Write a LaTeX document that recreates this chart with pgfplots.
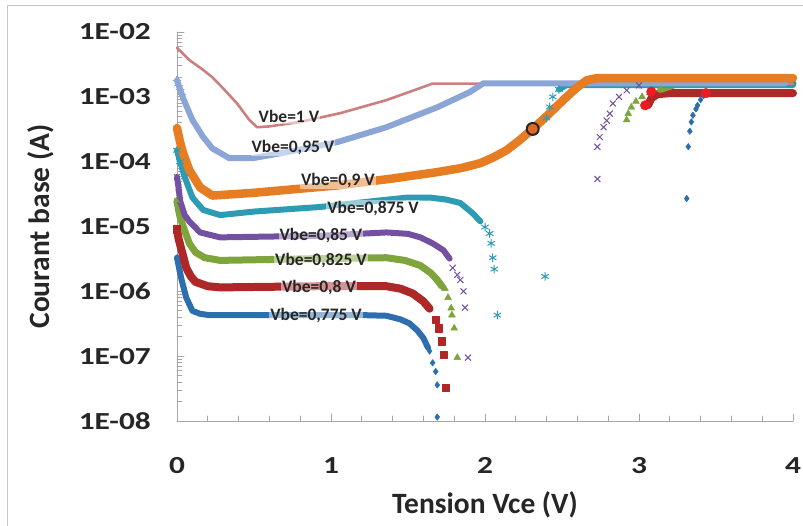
\documentclass[border=0pt]{standalone}
\usepackage{fontspec}
\setmainfont{Carlito}
\newfontfamily\tickfont{Carlito}[FakeStretch=1.28]
\usepackage{pgfplots}
\pgfplotsset{compat=1.18}
\definecolor{cpink}{RGB}{204,127,127}
\definecolor{clblue}{RGB}{140,165,215}
\definecolor{corange}{RGB}{230,125,35}
\definecolor{cteal}{RGB}{45,155,180}
\definecolor{cpurple}{RGB}{115,80,160}
\definecolor{cgreen}{RGB}{125,165,60}
\definecolor{cred}{RGB}{175,40,40}
\definecolor{cblue}{RGB}{45,110,175}
\definecolor{cdot}{RGB}{237,28,36}
\definecolor{ctxt}{RGB}{38,38,38}
\definecolor{cring}{RGB}{225,105,40}
\begin{document}
\begin{tikzpicture}
\useasboundingbox (-177pt,-105pt) rectangle (626pt,421pt);
\begin{axis}[
  at={(0pt,0pt)}, anchor=south west,
  scale only axis, width=616pt, height=389pt,
  xmin=0, xmax=4, ymin=1e-8, ymax=1e-2, ymode=log,
  clip=false,
  axis x line=bottom, axis y line=left,
  axis line style={draw=gray!70, line width=0.9pt, -},
  tick align=inside,
  major tick length=7pt, minor tick length=5pt,
  every tick/.style={draw=gray!70, line width=0.9pt},
  xtick={0,1,2,3,4}, minor x tick num=4,
  xticklabels={0,1,2,3,4},
  ytick={1e-8,1e-7,1e-6,1e-5,1e-4,1e-3,1e-2},
  minor ytick={2e-8,3e-8,4e-8,5e-8,6e-8,7e-8,8e-8,9e-8,
               2e-7,3e-7,4e-7,5e-7,6e-7,7e-7,8e-7,9e-7,
               2e-6,3e-6,4e-6,5e-6,6e-6,7e-6,8e-6,9e-6,
               2e-5,3e-5,4e-5,5e-5,6e-5,7e-5,8e-5,9e-5,
               2e-4,3e-4,4e-4,5e-4,6e-4,7e-4,8e-4,9e-4,
               2e-3,3e-3,4e-3,5e-3,6e-3,7e-3,8e-3,9e-3},
  yticklabels={1E-08,1E-07,1E-06,1E-05,1E-04,1E-03,1E-02},
  tick label style={font=\tickfont\bfseries\fontsize{24.5}{26}\selectfont, text=ctxt, inner sep=0pt},
  yticklabel style={anchor=east, xshift=-26pt},
  xticklabel style={anchor=north, yshift=-36pt},
  xlabel={Tension Vce (V)}, ylabel={Courant base (A)},
  label style={font=\bfseries\fontsize{29.5}{31}\selectfont, text=ctxt, inner sep=0pt},
  xlabel style={at={(axis description cs:0.5,-0.2365)}, anchor=base},
  ylabel style={at={(axis description cs:-0.2062,0.5)}, anchor=base, rotate=0},
  line join=round, line cap=round,
]
% ---- Vbe = 0.775 V (blue diamonds)
\addplot[cblue, line width=6pt, mark=none] coordinates {
(0,3.3e-6) (0.015,2.2e-6) (0.03,1.5e-6) (0.06,8.0e-7) (0.1,5.0e-7) (0.15,4.5e-7) (0.21,4.3e-7) (0.5,4.3e-7) (0.93,4.3e-7) (1.2,4.3e-7) (1.36,4.2e-7) (1.45,3.7e-7) (1.51,3.2e-7) (1.56,2.5e-7) (1.60,1.9e-7) (1.63,1.35e-7)};
\addplot[cblue, only marks, mark=diamond*, mark size=3.3pt] coordinates {
(0,3.3e-6) (0.015,2.2e-6) (0.03,1.5e-6) (1.64,1.2e-7) (1.66,7.9e-8) (1.68,5.8e-8) (1.69,3.6e-8) (1.69,1.15e-8)
(3.31,2.7e-5) (3.32,1.7e-4) (3.33,2.95e-4) (3.34,4.1e-4) (3.35,5.2e-4) (3.37,6.5e-4) (3.38,7.4e-4) (3.40,9.0e-4) (3.42,1.05e-3)};
\addplot[cblue, line width=6pt, mark=none] coordinates {(3.44,1.14e-3) (4,1.14e-3)};
% ---- Vbe = 0.8 V (red squares)
\addplot[cred, line width=8pt, mark=none] coordinates {
(0,9.1e-6) (0.01,6.5e-6) (0.03,4.3e-6) (0.06,2.3e-6) (0.09,1.7e-6) (0.12,1.4e-6) (0.2,1.2e-6) (0.28,1.15e-6) (0.93,1.2e-6) (1.36,1.2e-6) (1.45,1.1e-6) (1.53,9.3e-7) (1.60,7.0e-7) (1.64,5.4e-7)};
\addplot[cred, only marks, mark=square*, mark size=3.6pt] coordinates {
(0,9.1e-6) (1.68,3.7e-7) (1.70,2.7e-7) (1.72,1.7e-7) (1.73,1.05e-7) (1.745,3.3e-8)};
\addplot[cred, line width=8pt, mark=none] coordinates {(3.06,7.5e-4) (3.08,9.5e-4) (3.12,1.1e-3) (3.2,1.14e-3) (4,1.14e-3)};
% ---- Vbe = 0.825 V (green triangles)
\addplot[cgreen, line width=7pt, mark=none] coordinates {
(0,2.5e-5) (0.01,1.8e-5) (0.02,1.4e-5) (0.04,1.0e-5) (0.08,5.5e-6) (0.12,4.0e-6) (0.18,3.3e-6) (0.28,3.0e-6) (0.93,3.2e-6) (1.36,3.3e-6) (1.48,3.0e-6) (1.58,2.5e-6) (1.65,1.9e-6) (1.69,1.5e-6) (1.72,1.2e-6)};
\addplot[cgreen, only marks, mark=triangle*, mark size=4pt] coordinates {
(0,2.5e-5) (1.74,1.1e-6) (1.76,8.0e-7) (1.78,5.5e-7) (1.785,4.3e-7) (1.80,2.7e-7) (1.82,9.5e-8)
(2.92,4.4e-4) (2.93,5.5e-4) (2.95,6.9e-4) (2.98,8.5e-4) (3.02,1.0e-3) (3.07,1.15e-3) (3.14,1.3e-3)};
\addplot[cgreen, line width=7pt, mark=none] coordinates {(3.14,1.3e-3) (3.25,1.6e-3) (4,1.6e-3)};
% ---- Vbe = 0.85 V (purple crosses)
\addplot[cpurple, line width=6pt, mark=none] coordinates {
(0,5.8e-5) (0.01,4.0e-5) (0.02,2.5e-5) (0.05,1.5e-5) (0.08,1.2e-5) (0.15,8.1e-6) (0.28,6.8e-6) (0.93,7.2e-6) (1.36,8.1e-6) (1.5,7.7e-6) (1.58,6.8e-6) (1.66,5.5e-6) (1.73,4.3e-6) (1.77,3.2e-6)};
\addplot[cpurple, only marks, mark=x, mark size=4pt, line width=1pt] coordinates {
(0,5.8e-5) (0.01,4.0e-5) (0.02,2.5e-5) (1.79,2.3e-6) (1.82,1.8e-6) (1.84,1.5e-6) (1.86,1.0e-6) (1.87,5.6e-7) (1.89,9.5e-8)
(2.73,5.4e-5) (2.73,1.7e-4) (2.745,2.4e-4) (2.77,3.4e-4) (2.79,4.3e-4) (2.81,5.5e-4) (2.83,7.9e-4) (2.87,1.0e-3) (2.92,1.26e-3) (3.0,1.5e-3)};
\addplot[cpurple, line width=6pt, mark=none] coordinates {(3.0,1.5e-3) (3.1,1.6e-3) (4,1.6e-3)};
% ---- Vbe = 0.875 V (teal asterisks)
\addplot[cteal, line width=6pt, mark=none] coordinates {
(0,1.5e-4) (0.02,1.0e-4) (0.05,5.8e-5) (0.1,2.8e-5) (0.17,1.8e-5) (0.28,1.5e-5) (0.5,1.7e-5) (0.93,2.0e-5) (1.3,2.5e-5) (1.5,2.8e-5) (1.64,2.8e-5) (1.75,2.6e-5) (1.84,2.3e-5) (1.92,1.6e-5) (1.97,1.2e-5)};
\addplot[cteal, only marks, mark=asterisk, mark size=4pt, line width=1pt] coordinates {
(0,1.5e-4) (0.02,1.0e-4) (0.05,5.8e-5) (2.0,9.8e-6) (2.03,7.8e-6) (2.04,5.5e-6) (2.05,3.3e-6) (2.06,2.2e-6) (2.08,4.3e-7) (2.39,1.7e-6)
(2.40,4.7e-4) (2.42,7.0e-4) (2.44,1.0e-3) (2.48,1.3e-3)};
\addplot[cteal, line width=6pt, mark=none] coordinates {(2.48,1.3e-3) (2.53,1.52e-3) (4,1.52e-3)};
% ---- Vbe = 1 V (pink line)
\addplot[cpink, line width=2.6pt, mark=none] coordinates {
(0,5.7e-3) (0.08,3.7e-3) (0.17,2.6e-3) (0.23,2.0e-3) (0.3,1.35e-3) (0.39,7.9e-4) (0.47,4.4e-4) (0.52,3.4e-4) (0.6,3.5e-4) (0.8,4.1e-4) (1.06,5.6e-4) (1.36,8.9e-4) (1.66,1.6e-3) (4,1.6e-3)};
% ---- Vbe = 0.95 V (light blue plus)
\addplot[clblue, line width=6pt, mark=none] coordinates {
(0,1.8e-3) (0.02,1.3e-3) (0.04,9.5e-4) (0.1,4.4e-4) (0.17,2.4e-4) (0.23,1.6e-4) (0.34,1.13e-4) (0.49,1.13e-4) (0.71,1.4e-4) (1.04,2.0e-4) (1.36,3.4e-4) (1.69,6.9e-4) (1.90,1.18e-3) (1.99,1.62e-3) (3.95,1.62e-3)};
\addplot[clblue, only marks, mark=+, mark size=4pt, line width=1pt] coordinates {
(0,1.8e-3) (0.01,1.5e-3) (0.02,1.3e-3) (0.03,1.1e-3)};
% ---- Vbe = 0.9 V (orange)
\addplot[corange, line width=8.5pt, mark=none] coordinates {
(0,3.3e-4) (0.02,2.0e-4) (0.04,1.35e-4) (0.08,7.4e-5) (0.15,4.0e-5) (0.23,3.0e-5) (0.49,3.3e-5) (1.04,4.3e-5) (1.4,5.5e-5) (1.69,6.9e-5) (1.85,8.0e-5) (1.97,9.5e-5) (2.05,1.15e-4) (2.14,1.5e-4) (2.22,2.1e-4) (2.31,3.2e-4) (2.41,5.3e-4) (2.51,9.0e-4) (2.59,1.35e-3) (2.66,1.8e-3) (2.73,1.95e-3) (4,1.95e-3)};
% ---- highlighted points
\addplot[only marks, mark=*, mark size=4.8pt, mark options={fill=cdot, draw=cdot}] coordinates {(3.08,1.2e-3) (3.04,7.4e-4) (3.435,1.14e-3)};
\addplot[cring, only marks, mark=*, mark size=6pt, mark options={fill=cring, draw=black!85, line width=2pt}] coordinates {(2.31,3.2e-4)};
% ---- labels
\begin{scope}[every node/.style={font=\bfseries\fontsize{17.5}{18}\selectfont, text=ctxt, fill=white, fill opacity=0.5, text opacity=1, inner sep=1pt}]
\node at (axis cs:0.727,4.9e-4) {Vbe=1 V};
\node at (axis cs:0.753,1.66e-4) {Vbe=0,95 V};
\node at (axis cs:1.045,5.1e-5) {Vbe=0,9 V};
\node at (axis cs:1.273,1.9e-5) {Vbe=0,875 V};
\node at (axis cs:0.935,7.2e-6) {Vbe=0,85 V};
\node at (axis cs:0.935,3.0e-6) {Vbe=0,825 V};
\node at (axis cs:0.922,1.15e-6) {Vbe=0,8 V};
\node at (axis cs:0.903,4.3e-7) {Vbe=0,775 V};
\end{scope}
\end{axis}
\draw[gray!45, line width=1pt] (-169pt,-110pt) -- (-169pt,415pt) -- (630pt,415pt);
\end{tikzpicture}
\end{document}
